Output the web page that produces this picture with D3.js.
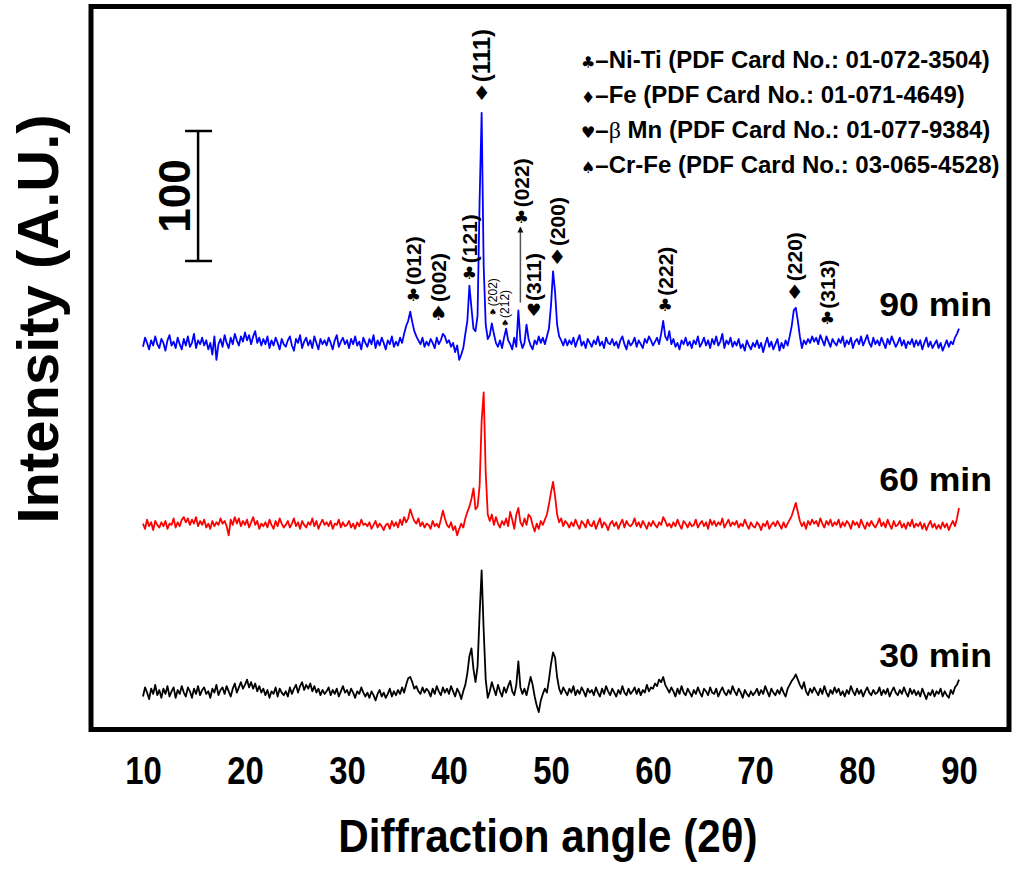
<!DOCTYPE html>
<html>
<head>
<meta charset="utf-8">
<title>XRD patterns 30 / 60 / 90 min</title>
<script src="https://cdnjs.cloudflare.com/ajax/libs/d3/7.8.5/d3.min.js"></script>
<style>
  body { margin: 0; background: #fff; }
  svg text { font-family: Arial, "Liberation Sans", Helvetica, sans-serif; font-weight: bold; fill: #000; }
  .trace { fill: none; stroke-width: 1.8px; stroke-linejoin: round; }
  .sym { font-family: "DejaVu Sans", sans-serif; }
</style>
</head>
<body>
<div id="chart"></div>
<script>
// 2-theta grid: 10 .. 90 deg, step 0.2 (one value per grid point)
var angleStart = 10, angleStep = 0.2;

var blue90 = [
  28,35,31,26,33,29,36,30,27,34, 31,25,33,37,29,32,27,35,30,26,
  34,29,36,28,31,38,27,33,30,35, 29,33,26,31,22,36,18,30,34,28,
  37,31,27,35,30,38,33,29,36,32, 39,33,37,30,36,40,31,35,29,34,
  30,36,27,33,29,35,31,26,34,30, 28,33,36,29,25,34,31,37,27,32,
  35,29,33,27,36,31,26,34,30,33, 29,35,31,26,33,37,28,32,35,30,
  33,27,34,30,36,29,32,26,35,31, 28,34,30,37,27,33,29,35,31,26,
  33,30,36,28,32,29,35,31,38,44, 48,55,47,40,36,33,30,35,28,32,
  29,34,31,27,35,30,33,38,36,31, 33,28,31,24,29,18,22,27,38,48,
  75,58,42,40,52,140,208,90,45,34, 37,46,38,31,28,33,27,35,42,33,
  30,26,35,28,56,33,27,31,45,34, 29,26,33,30,36,31,35,30,36,42,
  60,86,70,45,36,33,29,34,29,33, 30,35,28,33,37,29,32,27,34,31,
  28,33,30,36,29,32,27,35,31,30, 34,29,32,27,33,36,30,26,33,29,
  31,35,28,33,30,27,34,31,36,33, 29,32,35,30,38,48,36,33,40,30,
  34,28,31,26,33,30,35,29,32,27, 33,30,36,28,31,35,29,33,27,34,
  30,36,29,32,38,27,33,30,35,28, 32,29,34,27,30,25,33,29,26,31,
  28,33,27,31,24,30,35,28,32,26, 30,34,25,31,27,33,29,36,44,56,
  58,48,36,27,33,30,34,31,36,32, 35,30,37,33,29,36,32,28,34,31,
  29,34,31,36,28,33,30,35,27,32, 34,30,36,29,33,37,31,28,35,30,
  33,29,35,31,27,34,30,36,32,28, 31,35,29,33,27,32,30,34,28,33,
  29,33,26,31,35,28,32,27,30,33, 27,31,25,29,33,28,32,30,35,38,
  42
];

var red60 = [
  31,27,34,29,32,26,33,30,28,32, 29,33,27,31,30,35,28,32,29,34,
  36,32,35,30,34,31,36,29,33,30, 34,28,31,27,33,29,32,30,35,31,
  33,29,22,34,30,36,31,35,29,33, 30,34,28,32,36,30,33,27,31,29,
  32,28,34,30,27,33,29,35,31,28, 30,33,28,31,35,29,32,27,33,30,
  28,32,30,35,29,33,27,31,34,30, 32,29,33,27,31,30,34,28,32,29,
  30,33,28,31,27,32,29,34,30,31, 29,32,27,30,33,28,31,29,26,30,
  31,27,33,29,32,28,34,30,36,32, 35,42,37,33,31,35,29,32,28,31,
  30,27,33,29,31,28,34,41,35,30, 28,32,26,29,22,27,31,28,35,40,
  44,50,58,42,44,60,110,132,70,38, 33,38,30,36,31,28,33,30,35,29,
  40,34,27,38,43,32,29,35,30,38, 36,30,25,31,27,33,30,34,38,46,
  55,63,52,38,32,35,29,33,31,28, 32,29,34,30,27,33,31,28,34,30,
  29,33,27,31,35,28,32,30,26,31, 33,29,32,27,31,34,28,33,30,29,
  31,35,29,32,28,33,30,27,32,29, 33,30,28,32,30,36,33,29,31,28,
  32,29,34,30,27,33,31,28,32,29, 30,34,28,31,33,29,32,27,34,30,
  33,29,32,30,35,28,31,34,29,32, 30,33,28,31,29,34,30,27,32,29,
  28,32,30,26,31,29,33,27,30,32, 29,33,30,27,32,28,31,34,37,42,
  47,40,33,29,32,27,33,30,34,31, 33,29,35,31,28,33,30,34,29,32,
  30,34,28,32,29,33,31,27,33,30, 32,28,34,30,27,32,29,33,30,28,
  31,35,29,32,28,34,30,27,33,29, 30,33,28,31,27,32,29,34,28,31,
  29,32,27,31,26,30,33,28,31,27, 30,27,32,28,31,26,30,33,29,35,
  43
];

var black30 = [
  27,34,30,25,33,29,36,28,32,26, 33,29,35,27,31,34,26,32,29,35,
  30,27,34,31,26,33,29,35,28,32, 34,29,31,26,33,30,36,28,32,34,
  29,35,31,27,33,37,30,34,38,33, 36,40,34,38,33,37,31,35,30,33,
  28,32,26,31,29,34,27,33,30,28, 31,27,34,29,33,36,30,35,38,32,
  36,33,37,31,35,30,33,28,32,29, 31,34,28,32,29,33,27,31,35,30,
  32,28,33,30,26,31,29,34,30,27, 30,26,31,28,24,29,32,27,30,26,
  29,33,27,31,28,32,29,34,30,36, 41,42,38,33,35,31,29,34,30,33,
  31,27,33,29,35,31,28,34,30,33, 29,35,31,27,33,30,25,31,36,45,
  58,64,48,38,50,90,124,78,40,26, 31,38,33,28,36,31,27,34,30,35,
  39,31,28,36,54,34,29,33,28,35, 42,36,27,20,15,24,29,33,30,40,
  52,61,57,42,33,29,34,31,28,33, 30,35,28,32,29,34,31,27,33,30,
  32,28,34,30,27,33,29,35,31,28, 33,30,27,32,29,35,30,28,33,29,
  31,34,29,33,28,32,30,36,31,34, 33,37,35,40,38,42,36,33,30,34,
  31,27,33,29,35,30,28,33,30,27, 32,29,34,30,27,33,31,28,34,30,
  29,33,27,31,34,30,28,32,29,35, 31,28,33,30,26,32,29,27,31,28,
  30,33,28,32,29,35,31,27,33,30, 28,32,29,34,30,27,33,36,39,41,
  44,40,36,33,38,31,28,33,30,34, 31,28,33,29,35,30,27,32,29,34,
  30,33,28,31,27,32,29,35,31,28, 33,29,32,27,31,34,30,28,32,29,
  30,34,28,32,29,33,27,31,34,30, 28,32,29,34,30,27,33,29,32,28,
  31,27,33,29,25,30,28,32,27,31, 29,33,27,31,28,26,32,29,34,36,
  40
];

var sampleNames  = ["90 min", "60 min", "30 min"];
var sampleOffset = [266, 127, -2];       // vertical stacking, A.U.
var sampleLabelLevel = [318, 183, 48];   // A.U. level of the "xx min" labels
var sampleColour = ["#0000ff", "#ff0000", "#000000"];

var xTicks = [10, 20, 30, 40, 50, 60, 70, 80, 90];

var legendSymbols = ["\u2663", "\u2666", "\u2665", "\u2660"];
var legendTexts = [
  "\u2013Ni-Ti (PDF Card No.: 01-072-3504)",
  "\u2013Fe (PDF Card No.: 01-071-4649)",
  "\u2013\u03b2 Mn (PDF Card No.: 01-077-9384)",
  "\u2013Cr-Fe (PDF Card No.: 03-065-4528)"
];

// peak labels on the 90 min pattern: hkl, symbol, angle, level (A.U.)
var peakHkl    = ["(012)", "(002)", "(121)", "(111)", "(202)", "(212)", "(022)", "(311)", "(200)", "(222)", "(220)", "(313)"];
var peakSymbol = ["\u2663", "\u2660", "\u2663", "\u2666", "\u2660", "\u2660", "\u2663", "\u2665", "\u2666", "\u2663", "\u2666", "\u2663"];
var peakAngle  = [36.5, 39.0, 42.0, 43.2, 44.3, 45.5, 47.1, 48.3, 50.6, 61.2, 73.9, 77.1];
var peakLevel  = [334, 320, 351, 489, 321, 312, 394, 322, 363, 326, 336, 316];
var peakFont   = [21, 21, 21, 24, 12, 12, 21, 21, 21, 21, 21, 21];

var arrowAngle = 47.0, arrowFrom = 328, arrowTo = 386;
var scaleBarAngle = 15.4, scaleBarFrom = 360, scaleBarTo = 460;

var width = 1017, height = 869;

var x = d3.scaleLinear().domain([10, 90]).range([143, 959]);
var y = d3.scaleLinear().domain([0, 560]).range([729, 1]);

var svg = d3.select("#chart").append("svg")
  .attr("width", width)
  .attr("height", height);

var defs = svg.append("defs");
defs.append("marker")
  .attr("id", "arrowHead")
  .attr("viewBox", "0 0 10 10")
  .attr("refX", 9).attr("refY", 5)
  .attr("markerWidth", 6).attr("markerHeight", 7)
  .attr("markerUnits", "userSpaceOnUse")
  .attr("orient", "auto")
  .append("path")
  .attr("d", "M0,0 L10,5 L0,10 z")
  .attr("fill", "#111");

// frame
svg.append("rect")
  .attr("x", 91).attr("y", 6.5)
  .attr("width", 918).attr("height", 723)
  .attr("fill", "none")
  .attr("stroke", "#000")
  .attr("stroke-width", 5);

// patterns
var series = [blue90, red60, black30];
series.forEach(function (values, s) {
  var line = d3.line()
    .x(function (d, i) { return x(angleStart + i * angleStep); })
    .y(function (d) { return y(d + sampleOffset[s]); });
  svg.append("path")
    .datum(values)
    .attr("class", "trace")
    .attr("stroke", sampleColour[s])
    .attr("d", line);

  svg.append("text")
    .attr("transform", "translate(992," + y(sampleLabelLevel[s]) + ") scale(1.08,1)")
    .attr("text-anchor", "end")
    .style("font-size", "33px")
    .text(sampleNames[s]);
});

// x axis (labels only)
var xAxis = d3.axisBottom(x).tickValues(xTicks).tickSize(0).tickPadding(25);
var gx = svg.append("g")
  .attr("transform", "translate(0,729)")
  .call(xAxis);
gx.select(".domain").remove();
gx.selectAll("text")
  .style("font-family", "Arial, 'Liberation Sans', sans-serif")
  .style("font-weight", "bold")
  .style("font-size", "35px")
  .attr("transform", "scale(0.94,1.1)")
  .attr("fill", "#000");

svg.append("text")
  .attr("transform", "translate(548,852) scale(0.96,1.04)")
  .attr("text-anchor", "middle")
  .style("font-size", "44px")
  .text("Diffraction angle (2\u03b8)");

svg.append("text")
  .attr("transform", "translate(37,319) rotate(-90)")
  .attr("text-anchor", "middle")
  .attr("dominant-baseline", "central")
  .style("font-size", "58px")
  .text("Intensity (A.U.)");

// scale bar
var sbx = x(scaleBarAngle);
var bar = svg.append("g").attr("stroke", "#000").attr("stroke-width", 2.5);
bar.append("line").attr("x1", sbx).attr("x2", sbx).attr("y1", y(scaleBarFrom)).attr("y2", y(scaleBarTo));
bar.append("line").attr("x1", sbx - 13).attr("x2", sbx + 14).attr("y1", y(scaleBarFrom)).attr("y2", y(scaleBarFrom));
bar.append("line").attr("x1", sbx - 13).attr("x2", sbx + 14).attr("y1", y(scaleBarTo)).attr("y2", y(scaleBarTo));
svg.append("text")
  .attr("transform", "translate(" + (sbx - 24) + "," + y((scaleBarFrom + scaleBarTo) / 2) + ") rotate(-90)")
  .attr("text-anchor", "middle")
  .attr("dominant-baseline", "central")
  .style("font-size", "44px")
  .text("100");

// legend
var legend = svg.append("g");
legendTexts.forEach(function (t, i) {
  var row = legend.append("text")
    .attr("x", 581)
    .attr("y", 68 + i * 35)
    .style("font-size", "24px");
  row.append("tspan")
    .attr("class", "sym")
    .style("font-size", "16px")
    .text(legendSymbols[i]);
  var parts = t.split("\u03b2");
  row.append("tspan").text(parts[0]);
  if (parts.length > 1) {
    row.append("tspan")
      .style("font-family", "'Liberation Serif', 'Times New Roman', serif")
      .style("font-weight", "normal")
      .text("\u03b2");
    row.append("tspan").text(parts[1]);
  }
});

// arrow for (022)
svg.append("line")
  .attr("x1", x(arrowAngle)).attr("x2", x(arrowAngle))
  .attr("y1", y(arrowFrom)).attr("y2", y(arrowTo))
  .attr("stroke", "#555")
  .attr("stroke-width", 1.5)
  .attr("marker-end", "url(#arrowHead)");

// peak labels
peakHkl.forEach(function (hkl, i) {
  var px = x(peakAngle[i]), py = y(peakLevel[i]);
  var small = peakFont[i] < 15;
  var big = (peakSymbol[i] === "\u2666" || (peakSymbol[i] === "\u2660" && !small));
  var symSize = small ? 9 : (big ? 20 : 17);
  svg.append("text")
    .attr("class", "sym")
    .attr("x", px).attr("y", py)
    .attr("text-anchor", "middle")
    .attr("dominant-baseline", "central")
    .style("font-size", symSize + "px")
    .text(peakSymbol[i]);
  var ty = py - symSize * 0.5 - 1;
  svg.append("text")
    .attr("transform", "translate(" + px + "," + ty + ") rotate(-90)")
    .attr("text-anchor", "start")
    .attr("dominant-baseline", "central")
    .style("font-size", peakFont[i] + "px")
    .style("font-weight", small ? "normal" : "bold")
    .text(hkl);
});
</script>
</body>
</html>
